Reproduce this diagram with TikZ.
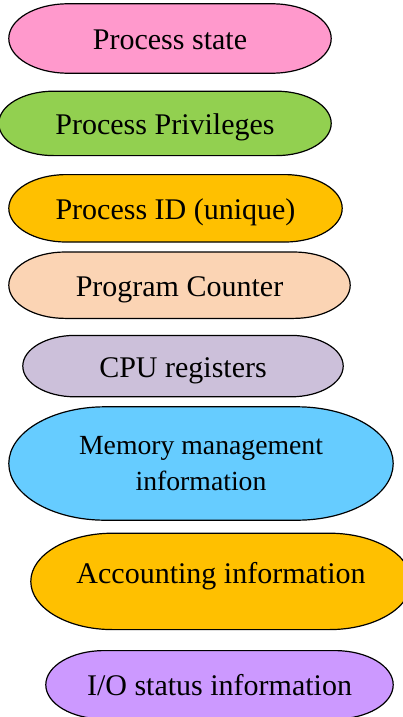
\documentclass[tikz,border=0pt]{standalone}
\usepackage{fontspec}
\setmainfont{Liberation Serif}
\usetikzlibrary{positioning,calc,backgrounds}
\definecolor{statepink}{HTML}{FF99CC}
\definecolor{privgreen}{HTML}{92D050}
\definecolor{pidgold}{HTML}{FFC000}
\definecolor{pcpeach}{HTML}{FBD4B4}
\definecolor{cpulilac}{HTML}{CCC0DA}
\definecolor{memblue}{HTML}{66CCFF}
\definecolor{iopurple}{HTML}{CC99FF}
\tikzset{
  basic/.style  = {inner sep=0pt, align=center, font=\fontsize{30}{36}\selectfont},
  field/.style  = {basic, text height=22pt, text depth=0pt},
  capsule/.style = {draw=black, line width=1.2pt}
}

\begin{document}
\begin{tikzpicture}
\useasboundingbox (0,0) rectangle (402pt,-717pt);
\node[field, minimum width=322pt, minimum height=69pt] (state) at (170pt,-38.5pt) {Process state};
\node[field, minimum width=332pt, minimum height=64pt, below=18pt of state, xshift=-5pt] (privs) {Process Privileges};
\node[field, minimum width=333pt, minimum height=67pt, below=19pt of privs, xshift=10.5pt] (pid) {Process ID (unique)};
\node[field, minimum width=341pt, minimum height=66pt, below=10pt of pid, xshift=4pt] (counter) {Program Counter};
\node[field, minimum width=320pt, minimum height=61pt, below=17pt of counter, xshift=3.5pt] (registers) {CPU registers};
\node[basic, font=\fontsize{27.7}{36}\selectfont, minimum width=384pt, minimum height=113pt, below=10pt of registers, xshift=18pt] (memory) {Memory management\\information};
\node[field, text depth=18pt, minimum width=380pt, minimum height=96pt, below=13pt of memory, xshift=20pt] (accounting) {Accounting information};
\node[field, minimum width=347pt, minimum height=68pt, below=21pt of accounting, xshift=-1.5pt] (iostatus) {I/O status information};

\begin{scope}[on background layer]
\foreach \b/\c in {state/statepink, privs/privgreen, pid/pidgold, counter/pcpeach,
    registers/cpulilac, memory/memblue, accounting/pidgold, iostatus/iopurple}
  \path let \p1=(\b.north east), \p2=(\b.south west),
            \n1={(\y1-\y2)/2}, \n2={0.85*(\y1-\y2)} in
    [capsule, fill=\c] ({\x2+\n2},\y2) -- ({\x1-\n2},\y2)
    arc[start angle=-90, end angle=90, x radius=\n2, y radius=\n1]
    -- ({\x2+\n2},\y1)
    arc[start angle=90, end angle=270, x radius=\n2, y radius=\n1] -- cycle;
\end{scope}
\end{tikzpicture}
\end{document}
